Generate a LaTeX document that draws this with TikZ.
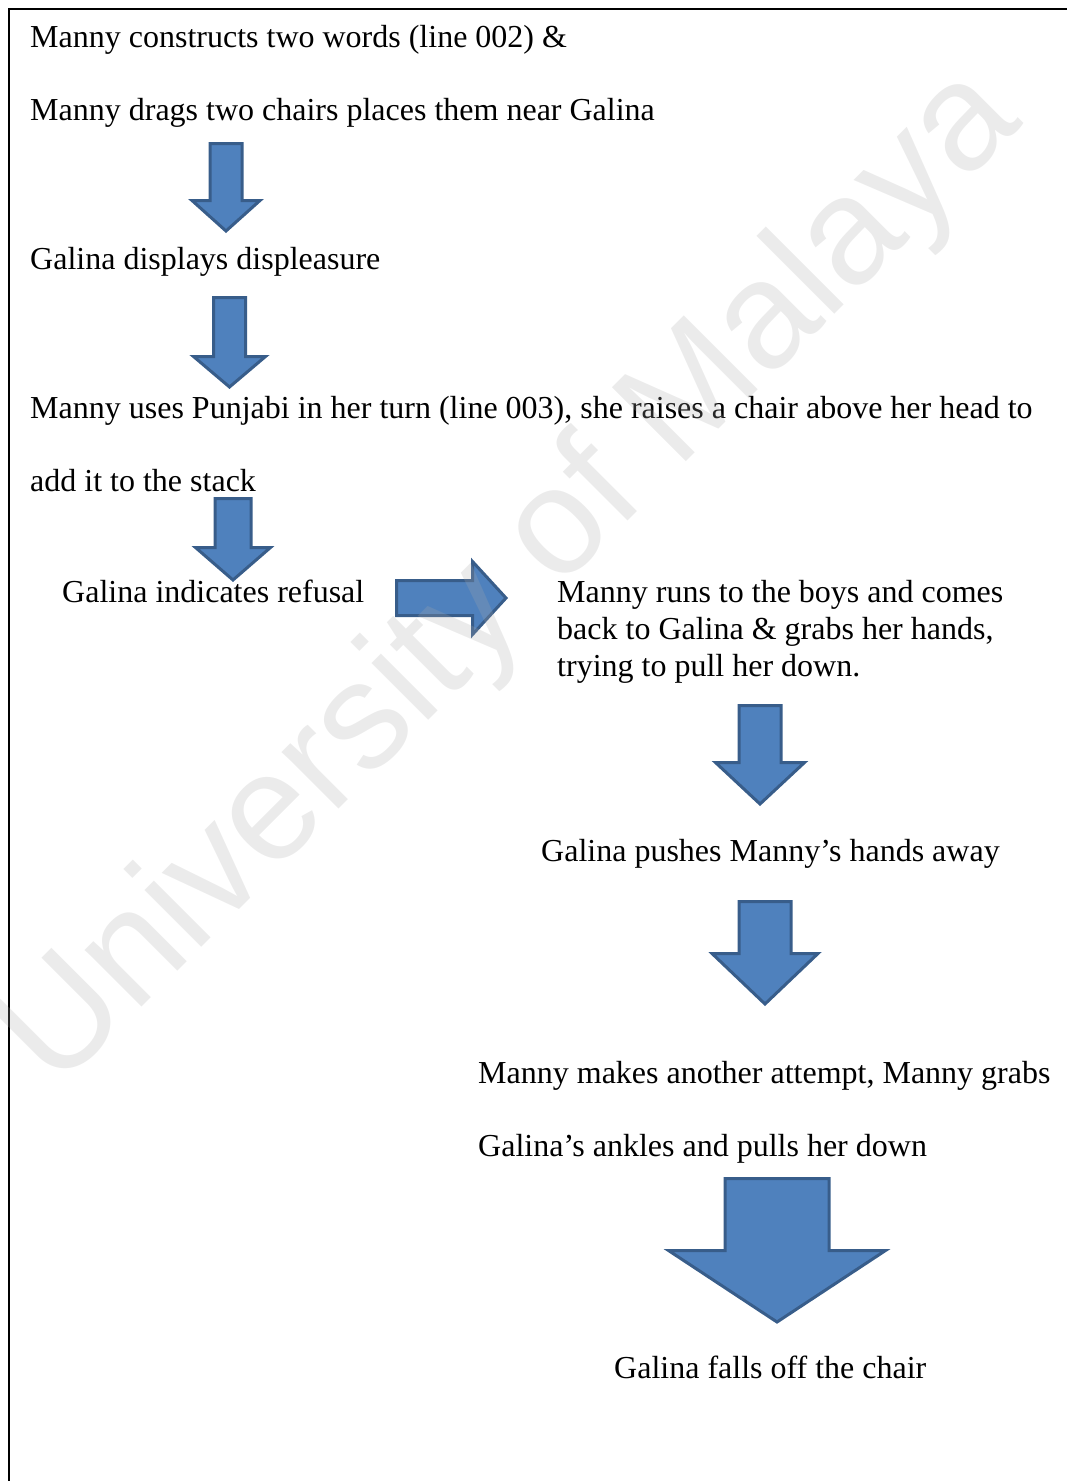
\documentclass[tikz,border=0pt]{standalone}
\usepackage{fontspec}
\setmainfont{Liberation Serif}
\newfontfamily\markfont{Liberation Sans}
\definecolor{arrowfill}{HTML}{4F81BD}
\definecolor{arrowline}{HTML}{385D8A}
\definecolor{markgray}{RGB}{170,170,170}
% downward block arrow: centre x, top y, shaft half width, wing y, wing half width, tip y
\newcommand\downblock[6]{%
  \draw[blockarrow] (#1-#3,#2) -- (#1+#3,#2) -- (#1+#3,#4) -- (#1+#5,#4)
    -- (#1,#6) -- (#1-#5,#4) -- (#1-#3,#4) -- cycle;}
% rightward block arrow: centre y, left x, shaft half height, head x, head half height, tip x
\newcommand\rightblock[6]{%
  \draw[blockarrow] (#2,#1-#3) -- (#4,#1-#3) -- (#4,#1-#5) -- (#6,#1)
    -- (#4,#1+#5) -- (#4,#1+#3) -- (#2,#1+#3) -- cycle;}
\begin{document}
\begin{tikzpicture}[x=1pt,y=-1pt,
  txt/.style={anchor=base west,inner sep=0pt,font=\fontsize{32}{37}\selectfont},
  blockarrow/.style={fill=arrowfill,draw=arrowline,line width=3pt,line join=miter},
  frameline/.style={line width=2pt,black}]
\useasboundingbox (0,0) rectangle (1067,1481);

% page frame (left and top rules)
\coordinate (fl) at (9,1481);
\coordinate (fc) at (9,8.5);
\coordinate (fr) at (1067,8.5);
\draw[frameline] (fl) -- (fc) -- (fr);

% event descriptions
\node[txt] (t1) at (30,47) {Manny constructs two words (line 002) \&};
\node[txt] (t2) at (30,120) {Manny drags two chairs places them near Galina};
\node[txt] (t3) at (30,269) {Galina displays displeasure};
\node[txt] (t4) at (30,418) {Manny uses Punjabi in her turn (line 003), she raises a chair above her head to};
\node[txt] (t5) at (30,491) {add it to the stack};
\node[txt] (t6) at (62,602) {Galina indicates refusal};
% three-line box: its base anchor sits on the last line
\node[txt,align=left] (t7) at (557,676) {Manny runs to the boys and comes\\back to Galina \& grabs her hands,\\trying to pull her down.};
\node[txt] (t8) at (541,861) {Galina pushes Manny’s hands away};
\node[txt] (t9) at (478,1083) {Manny makes another attempt, Manny grabs};
\node[txt] (t10) at (478,1156) {Galina’s ankles and pulls her down};
\node[txt] (t11) at (614,1378) {Galina falls off the chair};

% block arrows
\downblock{226}{143.5}{16}{200.5}{34}{231}
\downblock{229.5}{297.5}{16}{356.5}{36}{387}
\downblock{233}{498.5}{18}{547.5}{37.5}{580}
\rightblock{598}{396.5}{17.5}{472.5}{36.5}{506}
\downblock{760}{705.5}{21}{762.5}{44.5}{804}
\downblock{765}{901.5}{26}{953.5}{53}{1004}
\downblock{777}{1178.5}{52}{1250.5}{108.5}{1322}

% watermark
\node[rotate=45,opacity=0.23,text=markgray,inner sep=0pt,
      font=\markfont\fontsize{152}{152}\selectfont] (mark) at (513,580) {University of Malaya};
\end{tikzpicture}
\end{document}
